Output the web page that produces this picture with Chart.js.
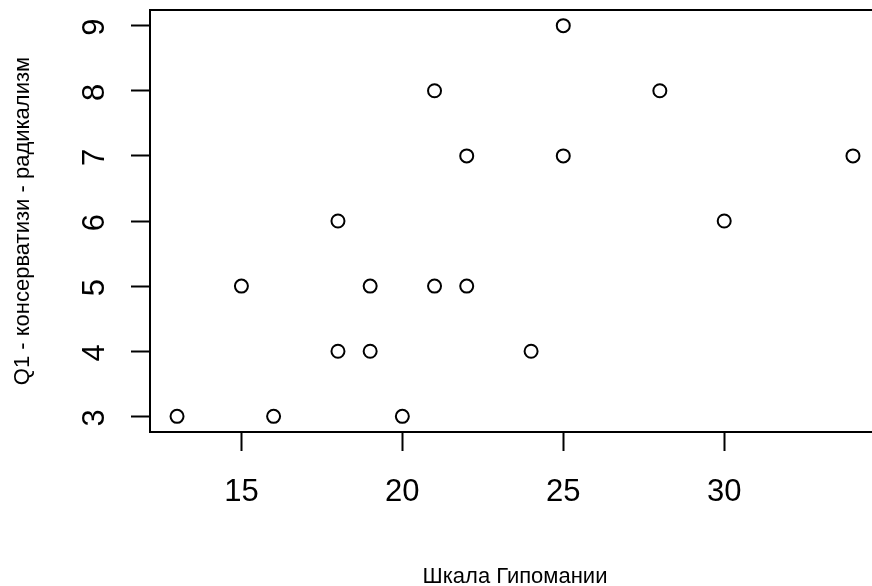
<!DOCTYPE html>
<html>
<head>
<meta charset="utf-8">
<script src="https://cdn.jsdelivr.net/npm/chart.js@4"></script>
<style>
  html, body { margin: 0; padding: 0; background: #fff; overflow: hidden; }
  #wrap { width: 880px; height: 586px; }
</style>
</head>
<body>
<div id="wrap"><canvas id="chart" width="880" height="586"></canvas></div>
<script>
// Scatter: hypomania scale vs Q1 (conservatism - radicalism)
const hypomania = [13, 16, 20, 18, 19, 24, 15, 19, 21, 22, 18, 30, 22, 25, 34, 21, 28, 25];
const q1Score   = [3, 3, 3, 4, 4, 4, 5, 5, 5, 5, 6, 6, 7, 7, 7, 8, 8, 9];
const xTicks = [15, 20, 25, 30];
const yTicks = [3, 4, 5, 6, 7, 8, 9];
const xTitle = 'Шкала Гипомании';
const yTitle = 'Q1 - консерватизи - радикализм';

const FONT = '"Liberation Sans", Arial, sans-serif';

// R-style 4% range padding
function padRange(vals) {
    const lo = Math.min(...vals), hi = Math.max(...vals);
    const d = (hi - lo) * 0.04;
    return [lo - d, hi + d];
}
const [xMin, xMax] = padRange(hypomania);
const [yMin, yMax] = padRange(q1Score);

const points = hypomania.map((x, i) => ({ x: x, y: q1Score[i] }));

// draws the full frame around the plot area
const boxPlugin = {
    id: 'box',
    afterDraw(chart) {
        const a = chart.chartArea;
        const ctx = chart.ctx;
        ctx.save();
        ctx.strokeStyle = '#000';
        ctx.lineWidth = 2;
        ctx.strokeRect(a.left, a.top, a.right - a.left, a.bottom - a.top);
        ctx.restore();
    }
};

new Chart(document.getElementById('chart'), {
    type: 'scatter',
    data: {
        datasets: [{
            data: points,
            pointStyle: 'circle',
            pointRadius: 6.5,
            pointHoverRadius: 6.5,
            borderColor: '#000',
            backgroundColor: 'rgba(0,0,0,0)',
            borderWidth: 2,
        }],
    },
    options: {
        responsive: false,
        animation: false,
        events: [],
        layout: { padding: { top: 10, right: 0, bottom: 0, left: 0 }, autoPadding: false },
        plugins: {
            legend: { display: false },
            tooltip: { enabled: false },
        },
        scales: {
            x: {
                type: 'linear',
                min: xMin,
                max: xMax,
                afterBuildTicks(scale) { scale.ticks = xTicks.map(v => ({ value: v })); },
                afterFit(scale) {
                    scale.height = 154;
                    scale.paddingLeft = 0;
                    scale.paddingRight = 0;
                },
                grid: {
                    drawOnChartArea: false,
                    drawTicks: true,
                    tickLength: 19,
                    tickWidth: 2,
                    color: '#000',
                },
                border: { display: false },
                ticks: {
                    color: '#000',
                    font: { family: FONT, size: 31 },
                    padding: 23,
                    maxRotation: 0,
                    autoSkip: false,
                },
                title: {
                    display: true,
                    text: xTitle,
                    color: '#000',
                    font: { family: FONT, size: 22 },
                    padding: { top: 0, bottom: -4 },
                },
            },
            y: {
                type: 'linear',
                min: yMin,
                max: yMax,
                afterBuildTicks(scale) { scale.ticks = yTicks.map(v => ({ value: v })); },
                afterFit(scale) {
                    scale.width = 150;
                    scale.paddingTop = 0;
                    scale.paddingBottom = 0;
                },
                grid: {
                    drawOnChartArea: false,
                    drawTicks: true,
                    tickLength: 19,
                    tickWidth: 2,
                    color: '#000',
                },
                border: { display: false },
                ticks: {
                    color: '#000',
                    font: { family: FONT, size: 31 },
                    padding: 36,
                    minRotation: 90,
                    maxRotation: 90,
                    labelOffset: -7,
                    autoSkip: false,
                },
                title: {
                    display: true,
                    text: yTitle,
                    color: '#000',
                    font: { family: FONT, size: 22 },
                    padding: { top: 10, bottom: 0 },
                },
            },
        },
    },
    plugins: [boxPlugin],
});
</script>
</body>
</html>
